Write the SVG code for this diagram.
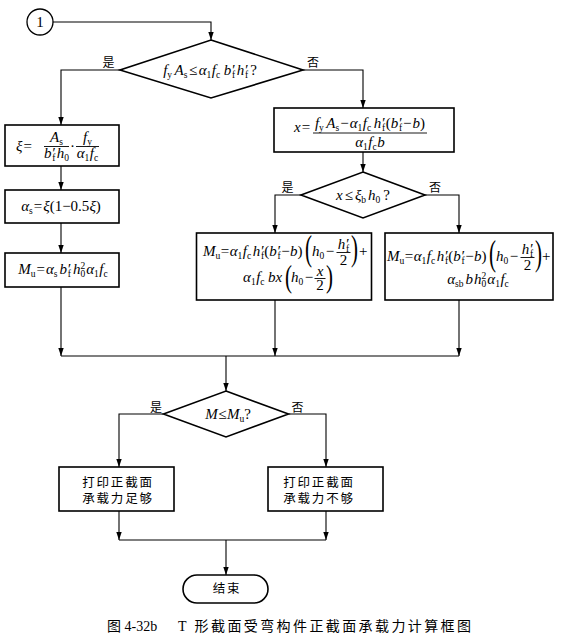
<svg xmlns="http://www.w3.org/2000/svg" width="564" height="642" viewBox="0 0 564 642">
<defs>
<marker id="ar" markerUnits="userSpaceOnUse" markerWidth="8" markerHeight="8" refX="8" refY="4" orient="auto"><path d="M0,1.3 L8,4 L0,6.7 Z" fill="#000"/></marker>
<style>
.ln{fill:none;stroke:#000;stroke-width:1.1;marker-end:url(#ar)}
.pl{fill:none;stroke:#000;stroke-width:1.1}
.bx{fill:#fff;stroke:#000;stroke-width:1.6}
.bar{stroke:#000;stroke-width:0.9}
.m{font-family:"Liberation Serif",serif;font-size:15px;fill:#000}
.i{font-style:italic}
.r{font-style:normal}
.s{font-size:9.5px;font-style:normal}
.c{text-anchor:middle}
.bp{font-family:"Liberation Serif",serif;font-size:21px;fill:#000}
.cj{font-family:"Noto Sans CJK SC",sans-serif;font-size:12px;fill:#000;text-anchor:middle}
.bt{font-family:"Noto Sans CJK SC",sans-serif;font-size:12.5px;letter-spacing:1.8px;fill:#000;text-anchor:middle}
.cap{font-family:"Liberation Serif","Noto Sans CJK SC",serif;font-size:14px;fill:#000}
</style>
</defs>
<rect width="564" height="642" fill="#fff"/>

<g id="connectors">
<polyline class="ln" points="53,22 211,22 211,40"/>
<polyline class="ln" points="120,70 61,70 61,125"/>
<polyline class="ln" points="303,70 363,70 363,108"/>
<polyline class="ln" points="61,166 61,190"/>
<polyline class="ln" points="61,223 61,253"/>
<polyline class="ln" points="61,287 61,356"/>
<polyline class="ln" points="363,152 363,172"/>
<polyline class="ln" points="301,195 275,195 275,233"/>
<polyline class="ln" points="425,195 459,195 459,233"/>
<polyline class="ln" points="275,300 275,356"/>
<polyline class="ln" points="459,300 459,356"/>
<polyline class="pl" points="61,356 459,356"/>
<polyline class="ln" points="226,356 226,391"/>
<polyline class="ln" points="163.5,414 119,414 119,467"/>
<polyline class="ln" points="288.5,414 326,414 326,467"/>
<polyline class="ln" points="119,511 119,540"/>
<polyline class="ln" points="326,511 326,540"/>
<polyline class="pl" points="119,540 326,540"/>
<polyline class="ln" points="226,540 226,575"/>
<text class="cj" x="108.5" y="67">是</text>
<text class="cj" x="313" y="67">否</text>
<text class="cj" x="287.5" y="192">是</text>
<text class="cj" x="435" y="192">否</text>
<text class="cj" x="156" y="412">是</text>
<text class="cj" x="297.5" y="412">否</text>
</g>

<g id="start">
<circle cx="40" cy="22" r="13" fill="#fff" stroke="#000" stroke-width="1.3"/>
<text class="m c" x="40" y="27">1</text>
</g>

<g id="d1">
<polygon class="bx" points="211,40 303,70 211,98 120,70"/>
<text class="m i c" x="210" y="75">f<tspan class="s" dy="3">y</tspan><tspan dy="-3" dx="2.5">A</tspan><tspan class="s" dy="3">s</tspan><tspan class="r" dy="-3" dx="1.5">≤</tspan><tspan dx="1.5">α</tspan><tspan class="s" dy="3">1</tspan><tspan dy="-3" dx="0.5">f</tspan><tspan class="s" dy="3">c</tspan><tspan dy="-3" dx="3.5">b′</tspan><tspan class="s" dy="3" dx="-2.5">f</tspan><tspan dy="-3" dx="1.5">h′</tspan><tspan class="s" dy="3" dx="-2.5">f</tspan><tspan class="r" dy="-3" dx="2">?</tspan></text>
</g>

<g id="b-xi">
<rect class="bx" x="5" y="125" width="114" height="41"/>
<text class="m i" x="16" y="151">ξ<tspan class="r" dx="1">=</tspan></text>
<text class="m i c" x="56.5" y="142">A<tspan class="s" dy="3">s</tspan></text>
<line class="bar" x1="44" y1="146.5" x2="69" y2="146.5"/>
<text class="m i c" x="56.5" y="158">b′<tspan class="s" dy="3" dx="-2.5">f</tspan><tspan dy="-3" dx="1.5">h</tspan><tspan class="s" dy="3">0</tspan></text>
<text class="m c" x="72.5" y="151">·</text>
<text class="m i c" x="87.5" y="142">f<tspan class="s" dy="3">y</tspan></text>
<line class="bar" x1="76" y1="146.5" x2="99" y2="146.5"/>
<text class="m i c" x="87.5" y="158">α<tspan class="s" dy="3">1</tspan><tspan dy="-3" dx="0.5">f</tspan><tspan class="s" dy="3">c</tspan></text>
</g>

<g id="b-as">
<rect class="bx" x="5" y="190" width="114" height="33"/>
<text class="m i c" x="61" y="211">α<tspan class="s" dy="3">s</tspan><tspan class="r" dy="-3" dx="1">=</tspan><tspan dx="1">ξ</tspan><tspan class="r">(1−0.5</tspan>ξ<tspan class="r">)</tspan></text>
</g>

<g id="b-mu1">
<rect class="bx" x="5" y="253" width="114" height="34"/>
<text class="m i c" x="63" y="274">M<tspan class="s" dy="3">u</tspan><tspan class="r" dy="-3" dx="1">=</tspan><tspan dx="1">α</tspan><tspan class="s" dy="3">s</tspan><tspan dy="-3" dx="2">b′</tspan><tspan class="s" dy="3" dx="-2.5">f</tspan><tspan dy="-3" dx="2">h</tspan><tspan class="s" dy="-5">2</tspan><tspan class="s" dy="8" dx="-4.8">0</tspan><tspan dy="-3" dx="1">α</tspan><tspan class="s" dy="3">1</tspan><tspan dy="-3" dx="0.5">f</tspan><tspan class="s" dy="3">c</tspan></text>
</g>

<g id="b-x">
<rect class="bx" x="274" y="108" width="180" height="44"/>
<text class="m i" x="294" y="132">x<tspan class="r" dx="1">=</tspan></text>
<text class="m i c" x="370" y="128">f<tspan class="s" dy="3">y</tspan><tspan dy="-3" dx="2.5">A</tspan><tspan class="s" dy="3">s</tspan><tspan class="r" dy="-3" dx="1">−</tspan><tspan dx="1">α</tspan><tspan class="s" dy="3">1</tspan><tspan dy="-3" dx="0.5">f</tspan><tspan class="s" dy="3">c</tspan><tspan dy="-3" dx="2.5">h′</tspan><tspan class="s" dy="3" dx="-2.5">f</tspan><tspan class="r" dy="-3" dx="0.5">(</tspan>b′<tspan class="s" dy="3" dx="-2.5">f</tspan><tspan class="r" dy="-3" dx="1">−</tspan><tspan dx="1">b</tspan><tspan class="r">)</tspan></text>
<line class="bar" x1="313" y1="133" x2="427" y2="133"/>
<text class="m i c" x="370" y="147">α<tspan class="s" dy="3">1</tspan><tspan dy="-3" dx="0.5">f</tspan><tspan class="s" dy="3">c</tspan><tspan dy="-3" dx="0.5">b</tspan></text>
</g>

<g id="d2">
<polygon class="bx" points="363,172 425,195 363,218 301,195"/>
<text class="m i c" x="363" y="200">x<tspan class="r" dx="2">≤</tspan><tspan dx="2">ξ</tspan><tspan class="s" dy="3">b</tspan><tspan dy="-3" dx="2">h</tspan><tspan class="s" dy="3">0</tspan><tspan class="r" dy="-3" dx="3">?</tspan></text>
</g>

<g id="b-mu2">
<rect class="bx" x="196.5" y="233" width="175" height="67"/>
<text class="m i" x="203" y="256">M<tspan class="s" dy="3">u</tspan><tspan class="r" dy="-3" dx="0.5">=</tspan><tspan dx="0.5">α</tspan><tspan class="s" dy="3">1</tspan><tspan dy="-3" dx="0.5">f</tspan><tspan class="s" dy="3">c</tspan><tspan dy="-3" dx="1.5">h′</tspan><tspan class="s" dy="3" dx="-2.5">f</tspan><tspan class="r" dy="-3">(</tspan>b′<tspan class="s" dy="3" dx="-2.5">f</tspan><tspan class="r" dy="-3" dx="0.5">−</tspan><tspan dx="0.5">b</tspan><tspan class="r">)</tspan></text>
<text class="bp" transform="translate(305 260) scale(1 1.7)">(</text>
<text class="m i" x="312" y="256">h<tspan class="s" dy="3">0</tspan><tspan class="r" dy="-3" dx="1.5">−</tspan></text>
<text class="m i c" x="343.5" y="248.5">h′<tspan class="s" dy="3" dx="-2.5">f</tspan></text>
<line class="bar" x1="336.5" y1="252.5" x2="350.5" y2="252.5"/>
<text class="m c" x="343.5" y="264.5">2</text>
<text class="bp" transform="translate(351 260) scale(1 1.7)">)</text>
<text class="m" x="359" y="256">+</text>
<text class="m i" x="243" y="282">α<tspan class="s" dy="3">1</tspan><tspan dy="-3" dx="0.5">f</tspan><tspan class="s" dy="3">c</tspan><tspan dy="-3" dx="3.5">bx</tspan></text>
<text class="bp" transform="translate(285 287) scale(1 1.5)">(</text>
<text class="m i" x="291" y="282">h<tspan class="s" dy="3">0</tspan><tspan class="r" dy="-3" dx="1.5">−</tspan></text>
<text class="m i c" x="320" y="275.5">x</text>
<line class="bar" x1="314.5" y1="278.5" x2="325.5" y2="278.5"/>
<text class="m c" x="320" y="290">2</text>
<text class="bp" transform="translate(326 287) scale(1 1.5)">)</text>
</g>

<g id="b-mu3">
<rect class="bx" x="385" y="233" width="168" height="67"/>
<text class="m i" x="387" y="261">M<tspan class="s" dy="3">u</tspan><tspan class="r" dy="-3" dx="0.5">=</tspan><tspan dx="0.5">α</tspan><tspan class="s" dy="3">1</tspan><tspan dy="-3" dx="0.5">f</tspan><tspan class="s" dy="3">c</tspan><tspan dy="-3" dx="1.5">h′</tspan><tspan class="s" dy="3" dx="-2.5">f</tspan><tspan class="r" dy="-3">(</tspan>b′<tspan class="s" dy="3" dx="-2.5">f</tspan><tspan class="r" dy="-3" dx="0.5">−</tspan><tspan dx="0.5">b</tspan><tspan class="r">)</tspan></text>
<text class="bp" transform="translate(489 265) scale(1 1.7)">(</text>
<text class="m i" x="496" y="261">h<tspan class="s" dy="3">0</tspan><tspan class="r" dy="-3" dx="1.5">−</tspan></text>
<text class="m i c" x="527.5" y="253.5">h′<tspan class="s" dy="3" dx="-2.5">f</tspan></text>
<line class="bar" x1="520.5" y1="257.5" x2="534.5" y2="257.5"/>
<text class="m c" x="527.5" y="269.5">2</text>
<text class="bp" transform="translate(535 265) scale(1 1.7)">)</text>
<text class="m" x="542" y="261">+</text>
<text class="m i c" x="478" y="284">α<tspan class="s" dy="3">sb</tspan><tspan dy="-3" dx="2">b</tspan><tspan dx="1">h</tspan><tspan class="s" dy="-5">2</tspan><tspan class="s" dy="8" dx="-4.8">0</tspan><tspan dy="-3" dx="1">α</tspan><tspan class="s" dy="3">1</tspan><tspan dy="-3" dx="0.5">f</tspan><tspan class="s" dy="3">c</tspan></text>
</g>

<g id="d3">
<polygon class="bx" points="226,391 288.5,414 226,437 163.5,414"/>
<text class="m i c" x="228" y="419">M<tspan class="r" dx="0.5">≤</tspan><tspan dx="0.5">M</tspan><tspan class="s" dy="3">u</tspan><tspan class="r" dy="-3">?</tspan></text>
</g>

<g id="p-ok">
<rect class="bx" x="59" y="467" width="115" height="44"/>
<text class="bt" x="118" y="487">打印正截面</text>
<text class="bt" x="118" y="503">承载力足够</text>
</g>

<g id="p-no">
<rect class="bx" x="268" y="467" width="115" height="44"/>
<text class="bt" x="319" y="487">打印正截面</text>
<text class="bt" x="319" y="503">承载力不够</text>
</g>

<g id="end">
<rect class="bx" x="183" y="575" width="85" height="28" rx="14" ry="14"/>
<text class="bt" x="227" y="593">结束</text>
</g>

<text class="cap" x="107" y="631">图 4-32b</text>
<text class="cap" x="178" y="631" style="letter-spacing:2.4px">T 形截面受弯构件正截面承载力计算框图</text>
</svg>
